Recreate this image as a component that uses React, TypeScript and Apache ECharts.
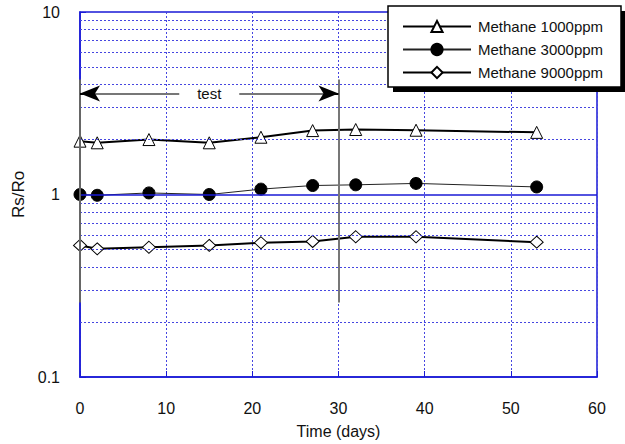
import React, { useEffect, useRef } from 'react';
import * as echarts from 'echarts';

const days = [0, 2, 8, 15, 21, 27, 32, 39, 53];
const methane1000 = [1.96, 1.92, 2.0, 1.92, 2.06, 2.24, 2.27, 2.25, 2.19];
const methane3000 = [1.0, 0.99, 1.02, 1.0, 1.07, 1.12, 1.13, 1.15, 1.1];
const methane9000 = [0.526, 0.504, 0.514, 0.526, 0.544, 0.553, 0.587, 0.587, 0.548];
const seriesNames = ['Methane 1000ppm', 'Methane 3000ppm', 'Methane 9000ppm'];

const yMinorGrid = [0.2, 0.3, 0.4, 0.5, 0.6, 0.7, 0.8, 0.9, 2, 3, 4, 5, 6, 7, 8, 9];
const yMajorGrid = [1];
const testRange = [0, 30];
const testArrowLevel = 3.58;
const testMarkerRange = [0.256, 4.27];
const testLabel = 'test';
const testLabelDay = 15;

const FONT = 'Liberation Sans, Arial, sans-serif';
const BLUE = '#1a1ad6';
const GRIDBLUE = '#4646e0';

export default function App() {
  const ref = useRef<HTMLDivElement>(null);
  useEffect(() => {
    if (!ref.current) return;
    const chart = echarts.init(ref.current, undefined, { renderer: 'svg' });
    const pair = (vals: number[]) => days.map((d, i) => [d, vals[i]]);
    const option: any = {
      animation: false,
      backgroundColor: '#fff',
      textStyle: { fontFamily: FONT },
      grid: {
        left: 80, right: 28, top: 12, bottom: 67,
        show: true, borderColor: BLUE, borderWidth: 1.5, backgroundColor: 'transparent',
      },
      xAxis: {
        type: 'value', min: 0, max: 60, interval: 10,
        name: 'Time (days)', nameLocation: 'middle', nameGap: 46,
        nameTextStyle: { fontSize: 16, color: '#111', fontFamily: FONT },
        axisLine: { show: true, lineStyle: { color: BLUE, width: 1.5 } },
        axisTick: { show: true, inside: true, length: 6, lineStyle: { color: BLUE } },
        axisLabel: { fontSize: 16, color: '#111', margin: 23, fontFamily: FONT },
        splitLine: { show: true, lineStyle: { color: GRIDBLUE, width: 1, type: [2, 2] } },
      },
      yAxis: {
        type: 'log', logBase: 10, min: 0.1, max: 10,
        name: 'Rs/Ro', nameLocation: 'middle', nameGap: 47,
        nameTextStyle: { fontSize: 17, color: '#111', fontFamily: FONT },
        axisLine: { show: true, lineStyle: { color: BLUE, width: 1.5 } },
        axisTick: { show: true, inside: true, length: 6, lineStyle: { color: BLUE } },
        axisLabel: {
          fontSize: 16, color: '#111', margin: 20, fontFamily: FONT,
          formatter: (v: number) => (v < 1 ? String(Math.round(v * 10) / 10) : String(Math.round(v))),
        },
        splitLine: { show: false },
      },
      legend: {
        data: seriesNames,
        orient: 'vertical', left: 397, top: 14,
        itemWidth: 68, itemHeight: 14, itemGap: 8,
        z: 200,
        textStyle: { fontSize: 15, color: '#111', fontFamily: FONT, padding: [0, 0, 0, 2] },
      },
      graphic: {
        elements: [
          { type: 'rect', z: 100, shape: { x: 393, y: 11, width: 232, height: 81 }, style: { fill: '#000' } },
          { type: 'rect', z: 101, shape: { x: 388, y: 6, width: 233, height: 81 }, style: { fill: '#fff', stroke: '#000', lineWidth: 1.5 } },
        ],
      },
      series: [
        {
          name: 'gridlines', type: 'line', data: [], z: 1, silent: true,
          markLine: {
            silent: true, symbol: ['none', 'none'], animation: false,
            label: { show: false },
            data: [
              ...yMinorGrid.map((v) => ({ yAxis: v, lineStyle: { color: GRIDBLUE, width: 1, type: [2, 2] } })),
              ...yMajorGrid.map((v) => ({ yAxis: v, lineStyle: { color: BLUE, width: 1.5, type: 'solid' } })),
            ],
          },
        },
        {
          name: seriesNames[0], type: 'line', z: 3, data: pair(methane1000),
          symbol: 'triangle', symbolSize: 12,
          itemStyle: { color: '#fff', borderColor: '#000', borderWidth: 1 },
          lineStyle: { color: '#000', width: 2 },
        },
        {
          name: seriesNames[1], type: 'line', z: 3, data: pair(methane3000),
          symbol: 'circle', symbolSize: 12,
          itemStyle: { color: '#000', borderColor: '#000', borderWidth: 1 },
          lineStyle: { color: '#222', width: 1 },
        },
        {
          name: seriesNames[2], type: 'line', z: 3, data: pair(methane9000),
          symbol: 'diamond', symbolSize: [13, 12],
          itemStyle: { color: '#fff', borderColor: '#000', borderWidth: 1 },
          lineStyle: { color: '#000', width: 2 },
        },
        {
          name: 'annotation', type: 'line', data: [], z: 4, silent: true,
          markLine: {
            silent: true, animation: false, label: { show: false },
            symbol: ['none', 'none'],
            data: [
              [
                { coord: [testRange[0], testMarkerRange[1]], lineStyle: { color: '#666', width: 2, type: 'solid' } },
                { coord: [testRange[0], testMarkerRange[0]] },
              ],
              [
                { coord: [testRange[1], testMarkerRange[1]], lineStyle: { color: '#777', width: 2, type: 'solid' } },
                { coord: [testRange[1], testMarkerRange[0]] },
              ],
              [
                { coord: [testRange[0], testArrowLevel], lineStyle: { color: '#777', width: 2, type: 'solid' } },
                { coord: [testRange[1], testArrowLevel] },
              ],
              [
                { coord: [testRange[0], testArrowLevel], symbol: 'arrow', symbolSize: [12, 20], lineStyle: { color: '#000', width: 2, type: 'solid' } },
                { coord: [testRange[0] + 1.5, testArrowLevel], symbol: 'none' },
              ],
              [
                { coord: [testRange[1] - 1.5, testArrowLevel], symbol: 'none', lineStyle: { color: '#000', width: 2, type: 'solid' } },
                { coord: [testRange[1], testArrowLevel], symbol: 'arrow', symbolSize: [12, 20] },
              ],
            ],
          },
          markPoint: {
            silent: true, animation: false,
            data: [
              {
                coord: [testLabelDay, testArrowLevel], symbol: 'rect', symbolSize: [60, 14],
                itemStyle: { color: '#fff' },
                label: { show: true, position: 'inside', formatter: testLabel, color: '#111', fontSize: 15, fontFamily: FONT },
              },
            ],
          },
        },
      ],
    };
    chart.setOption(option);
    return () => chart.dispose();
  }, []);
  return <div ref={ref} style={{ width: 625, height: 444, position: 'absolute', left: 0, top: 0 }} />;
}
